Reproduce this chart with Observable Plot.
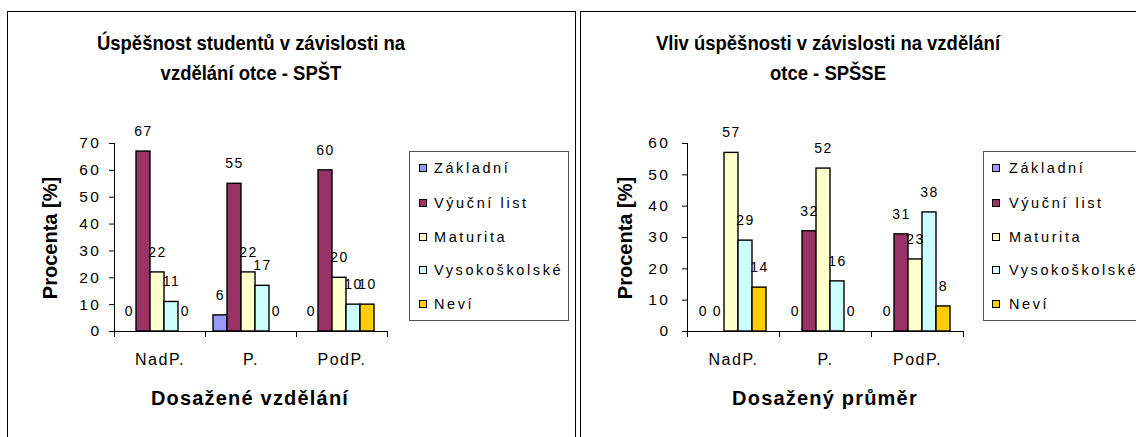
<!DOCTYPE html>
<html><head><meta charset="utf-8">
<script src="https://cdn.jsdelivr.net/npm/d3@7"></script>
<script src="https://cdn.jsdelivr.net/npm/@observablehq/plot@0.6"></script>
<style>
body{margin:0;background:#fff;width:1136px;height:437px;overflow:hidden;position:relative;font-family:"Liberation Sans",Arial,sans-serif;color:#000;}
.panel{position:absolute;border:1px solid #000;box-sizing:border-box;background:#fff;}
.chart{position:absolute;top:0;}
.chart text{letter-spacing:1.5px;}
.chart g[aria-label="y-axis tick label"] text{letter-spacing:2.5px;}
.title{position:absolute;text-align:center;font-weight:bold;font-size:21px;line-height:30px;white-space:nowrap;transform:scaleX(0.88);transform-origin:50% 50%;}
.ytitle{position:absolute;font-weight:bold;font-size:20px;white-space:nowrap;transform:translate(-50%,-50%) rotate(-90deg);}
.xtitle{position:absolute;font-weight:bold;font-size:20px;letter-spacing:1.2px;white-space:nowrap;transform:translate(-50%,-50%);}
.legend{position:absolute;border:1px solid #555;box-sizing:border-box;background:#fff;}
.legend .item{position:absolute;white-space:nowrap;font-size:14.5px;letter-spacing:2.6px;line-height:16px;}
.legend .sw{position:absolute;width:8px;height:8px;border:1px solid #000;box-sizing:border-box;}
</style></head><body>
<script>
const categories = ["NadP.", "P.", "PodP."];
const seriesNames = ["Základní", "Výuční list", "Maturita", "Vysokoškolské", "Neví"];
const seriesColors = ["#9999ff", "#993366", "#ffffcc", "#ccffff", "#ffcc00"];

// Left chart: SPŠT
const sptZakladni = [0, 6, 0];
const sptVyucni = [67, 55, 60];
const sptMaturita = [22, 22, 20];
const sptVysoko = [11, 17, 10];
const sptNevi = [0, 0, 10];

// Right chart: SPŠSE
const spsseZakladni = [0, 0, 0];
const spsseVyucni = [0, 32, 31];
const spsseMaturita = [57, 52, 23];
const spsseVysoko = [29, 16, 38];
const spsseNevi = [14, 0, 8];

const leftTitle = ["Úspěšnost studentů v závislosti na", "vzdělání otce - SPŠT"];
const rightTitle = ["Vliv úspěšnosti v závislosti na vzdělání", "otce - SPŠSE"];
const yTitle = "Procenta [%]";
const leftXTitle = "Dosažené vzdělání";
const rightXTitle = "Dosažený průměr";

function rowsOf(seriesArrays) {
  const rows = [];
  categories.forEach((c, i) => {
    seriesNames.forEach((s, j) => rows.push({cat: c, series: s, value: seriesArrays[j][i]}));
  });
  return rows;
}

function makeChart({rows, ymax, width, marginLeft, marginRight, yPad}) {
  const top = 143, bottom = 331, H = 437;
  return Plot.plot({
    width, height: H,
    marginLeft, marginRight, marginTop: top, marginBottom: H - bottom,
    style: {fontFamily: '"Liberation Sans", Arial, sans-serif', fontSize: "15px", color: "#000", background: "transparent", overflow: "visible"},
    fx: {domain: categories, padding: 0, label: null},
    x: {domain: seriesNames, paddingInner: 0, paddingOuter: 0.69, align: 0.4, axis: null},
    y: {domain: [0, ymax], label: null},
    color: {domain: seriesNames, range: seriesColors},
    marks: [
      Plot.axisY({ticks: d3.range(0, ymax + 1, 10), tickSize: 5, tickPadding: yPad, fontSize: 15.5, label: null}),
      Plot.frame({anchor: "left", fx: () => categories[0], stroke: "#000"}),
      Plot.axisFx({anchor: "bottom", tickSize: 0, tickPadding: 22, fontSize: 16, label: null}),
      Plot.ruleY([0], {stroke: "#000"}),
      Plot.frame({anchor: "left", insetTop: bottom - top, insetBottom: -5, stroke: "#000"}),
      Plot.frame({anchor: "right", insetTop: bottom - top, insetBottom: -5, stroke: "#000"}),
      Plot.barY(rows, {fx: "cat", x: "series", y: "value", fill: "series", stroke: "#000", strokeWidth: 1.4}),
      Plot.text(rows, {fx: "cat", x: "series", y: "value", text: d => String(d.value), dy: -20, fontSize: 14, fill: "#000"})
    ]
  });
}

function el(tag, cls, styles, html) {
  const e = document.createElement(tag);
  if (cls) e.className = cls;
  Object.assign(e.style, styles || {});
  if (html != null) e.innerHTML = html;
  document.body.appendChild(e);
  return e;
}

function legend(left, top, width, swX, txtX) {
  const box = el("div", "legend", {left: left + "px", top: top + "px", width: width + "px", height: "170px"});
  const ys = [16, 51, 85, 118, 152];
  seriesNames.forEach((s, i) => {
    const sw = document.createElement("div");
    sw.className = "sw";
    Object.assign(sw.style, {left: swX + "px", top: (ys[i] - 4) + "px", background: seriesColors[i]});
    box.appendChild(sw);
    const t = document.createElement("div");
    t.className = "item";
    Object.assign(t.style, {left: txtX + "px", top: (ys[i] - 8) + "px"});
    t.textContent = s;
    box.appendChild(t);
  });
}

// panels
el("div", "panel", {left: "7px", top: "11px", width: "569px", height: "440px"});
el("div", "panel", {left: "580px", top: "11px", width: "600px", height: "440px"});

const leftChart = makeChart({
  rows: rowsOf([sptZakladni, sptVyucni, sptMaturita, sptVysoko, sptNevi]),
  ymax: 70, width: 575, marginLeft: 113, marginRight: 187, yPad: 8
});
leftChart.classList.add("chart");
leftChart.style.left = "0px";
document.body.appendChild(leftChart);

const rightChart = makeChart({
  rows: rowsOf([spsseZakladni, spsseVyucni, spsseMaturita, spsseVysoko, spsseNevi]),
  ymax: 60, width: 556, marginLeft: 107, marginRight: 173, yPad: 12
});
rightChart.classList.add("chart");
rightChart.style.left = "580px";
document.body.appendChild(rightChart);

// titles
el("div", "title", {left: "51px", top: "28px", width: "400px"}, leftTitle.join("<br>"));
el("div", "title", {left: "628px", top: "28px", width: "400px"}, rightTitle.join("<br>"));
el("div", "ytitle", {left: "50px", top: "238px"}, yTitle);
el("div", "ytitle", {left: "625px", top: "238px"}, yTitle);
el("div", "xtitle", {left: "250px", top: "398px"}, leftXTitle);
el("div", "xtitle", {left: "825px", top: "398px"}, rightXTitle);

legend(409, 151, 160, 9, 24);
legend(983, 151, 200, 8, 25);
</script>
</body></html>
